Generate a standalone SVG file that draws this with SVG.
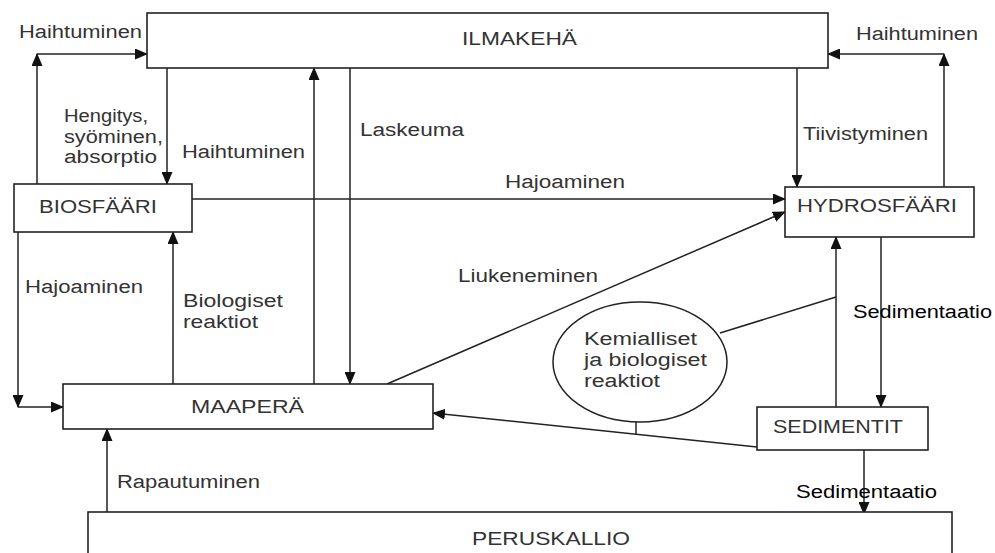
<svg xmlns="http://www.w3.org/2000/svg" width="995" height="553" viewBox="0 0 995 553">
<defs>
<marker id="ah" markerUnits="userSpaceOnUse" markerWidth="13" markerHeight="11" refX="12" refY="5.5" orient="auto"><path d="M0,0 L13,5.5 L0,11 z" fill="#111"/></marker>
</defs>
<style>
.box{fill:#fff;stroke:#222;stroke-width:1.6}
.ln{fill:none;stroke:#222;stroke-width:1.5}
.ar{fill:none;stroke:#222;stroke-width:1.5;marker-end:url(#ah)}
text{font-family:"Liberation Sans",Arial,sans-serif;font-size:18px;fill:#333}
.dk{fill:#000}
</style>
<rect width="995" height="553" fill="#fff"/>
<g id="connectors">
<path class="ln" d="M37,184 V60"/>
<path class="ar" d="M37,66 V54"/>
<path class="ar" d="M37,54 H147"/>
<path class="ar" d="M167,68 V184"/>
<path class="ar" d="M314,384 V68"/>
<path class="ar" d="M350,68 V384"/>
<path class="ar" d="M797,68 V187"/>
<path class="ln" d="M944,187 V60"/>
<path class="ar" d="M944,66 V54"/>
<path class="ar" d="M944,54 H828"/>
<path class="ar" d="M192,199 H785"/>
<path class="ar" d="M18,232 V407"/>
<path class="ar" d="M18,407 H63"/>
<path class="ar" d="M173,384 V232"/>
<path class="ar" d="M387,384 L785,212"/>
<path class="ar" d="M757,447 L433,413"/>
<path class="ar" d="M836,407 V237"/>
<path class="ar" d="M881,237 V407"/>
<path class="ar" d="M864,450 V514"/>
<path class="ar" d="M107,512 V429"/>
<path class="ln" d="M720,333 L836,297"/>
<path class="ln" d="M636,421 V434"/>
</g>
<g id="ilmakeha"><rect class="box" x="147" y="13" width="681" height="55"/><text x="462" y="45" textLength="115" lengthAdjust="spacingAndGlyphs">ILMAKEHÄ</text></g>
<g id="biosfaari"><rect class="box" x="14" y="184" width="178" height="48"/><text x="39" y="213" textLength="118" lengthAdjust="spacingAndGlyphs">BIOSFÄÄRI</text></g>
<g id="hydrosfaari"><rect class="box" x="785" y="187" width="189" height="50"/><text x="797" y="212" textLength="160" lengthAdjust="spacingAndGlyphs">HYDROSFÄÄRI</text></g>
<g id="maapera"><rect class="box" x="63" y="384" width="370" height="45"/><text x="191" y="413" textLength="113" lengthAdjust="spacingAndGlyphs">MAAPERÄ</text></g>
<g id="sedimentit"><rect class="box" x="757" y="407" width="171" height="43"/><text x="773" y="433" textLength="130" lengthAdjust="spacingAndGlyphs">SEDIMENTIT</text></g>
<g id="peruskallio"><rect class="box" x="88" y="512" width="864" height="60"/><text x="472" y="545" textLength="158" lengthAdjust="spacingAndGlyphs">PERUSKALLIO</text></g>
<g id="reaktiot"><ellipse cx="640" cy="362" rx="87" ry="60" fill="#fff" stroke="#222" stroke-width="1.5"/>
<text x="584" y="345" textLength="113" lengthAdjust="spacingAndGlyphs">Kemialliset</text>
<text x="584" y="366" textLength="123" lengthAdjust="spacingAndGlyphs">ja biologiset</text>
<text x="584" y="387" textLength="76" lengthAdjust="spacingAndGlyphs">reaktiot</text></g>
<g id="labels">
<text x="19" y="38" textLength="123" lengthAdjust="spacingAndGlyphs">Haihtuminen</text>
<text x="856" y="40" textLength="122" lengthAdjust="spacingAndGlyphs">Haihtuminen</text>
<text x="64" y="122" textLength="84" lengthAdjust="spacingAndGlyphs">Hengitys,</text>
<text x="64" y="143" textLength="99" lengthAdjust="spacingAndGlyphs">syöminen,</text>
<text x="64" y="163" textLength="93" lengthAdjust="spacingAndGlyphs">absorptio</text>
<text x="182" y="158" textLength="123" lengthAdjust="spacingAndGlyphs">Haihtuminen</text>
<text x="360" y="136" textLength="104" lengthAdjust="spacingAndGlyphs">Laskeuma</text>
<text x="803" y="140" textLength="125" lengthAdjust="spacingAndGlyphs">Tiivistyminen</text>
<text x="505" y="188" textLength="120" lengthAdjust="spacingAndGlyphs">Hajoaminen</text>
<text x="25" y="293" textLength="118" lengthAdjust="spacingAndGlyphs">Hajoaminen</text>
<text x="183" y="307" textLength="100" lengthAdjust="spacingAndGlyphs">Biologiset</text>
<text x="183" y="328" textLength="75" lengthAdjust="spacingAndGlyphs">reaktiot</text>
<text x="458" y="282" textLength="140" lengthAdjust="spacingAndGlyphs">Liukeneminen</text>
<text class="dk" x="853" y="318" textLength="139" lengthAdjust="spacingAndGlyphs">Sedimentaatio</text>
<text x="117" y="488" textLength="143" lengthAdjust="spacingAndGlyphs">Rapautuminen</text>
<text class="dk" x="796" y="498" textLength="141" lengthAdjust="spacingAndGlyphs">Sedimentaatio</text>
</g>
</svg>
